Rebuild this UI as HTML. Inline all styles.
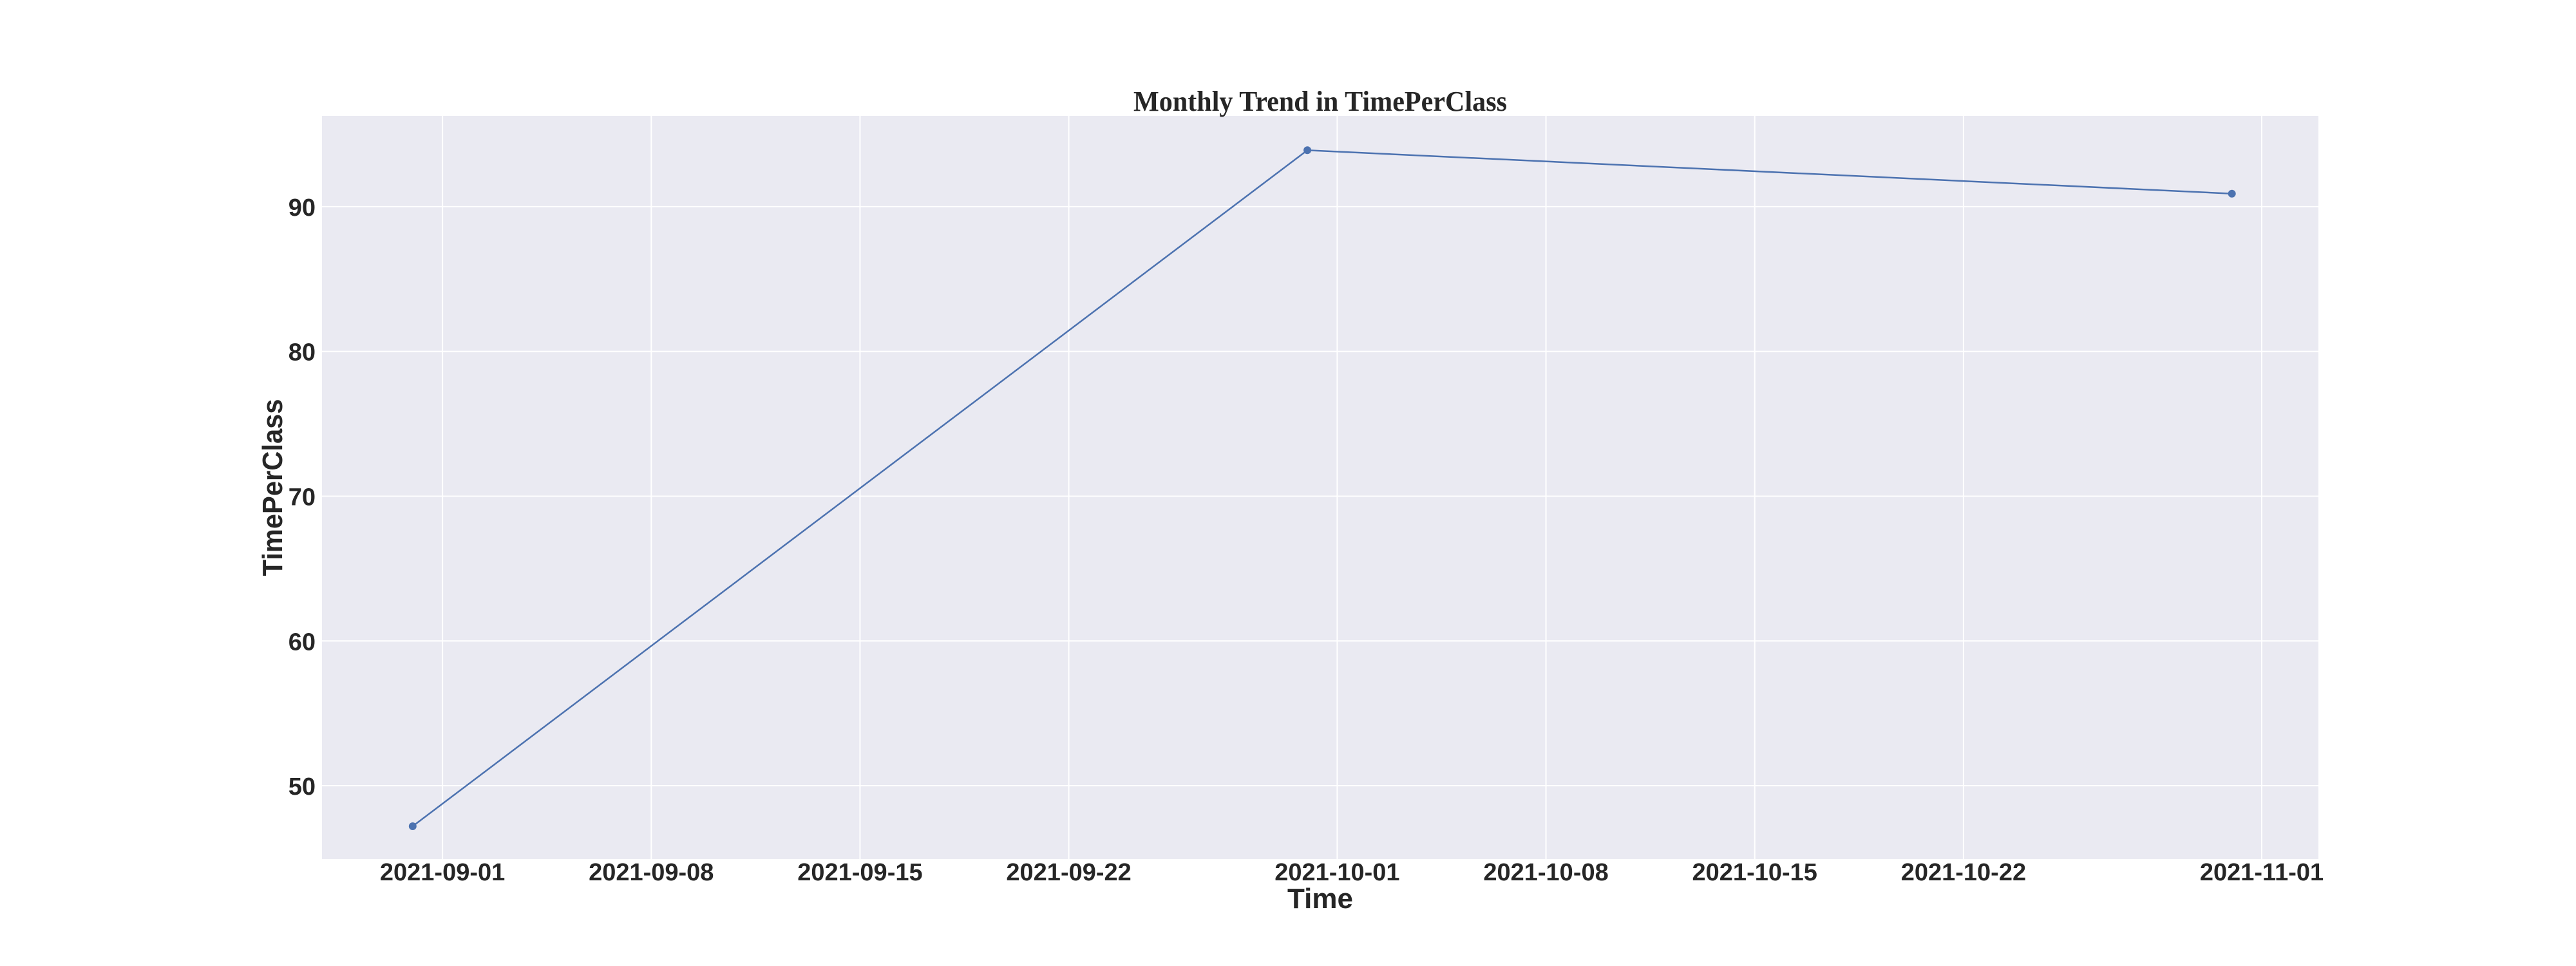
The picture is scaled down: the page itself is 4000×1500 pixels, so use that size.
<!DOCTYPE html>
<html><head><meta charset="utf-8"><style>
html,body{margin:0;padding:0;background:#fff;}
svg{display:block;}
</style></head><body>
<svg id="chart" width="4000" height="1500" xmlns="http://www.w3.org/2000/svg">
<rect x="0" y="0" width="4000" height="1500" fill="#ffffff"/>
<rect x="500" y="180" width="3100" height="1154" fill="#eaeaf2"/>
<g id="grid"></g>
<g id="series"></g>
<g id="xticks"></g>
<g id="yticks"></g>
<text x="2050" y="172" text-anchor="middle" textLength="580" lengthAdjust="spacingAndGlyphs" font-family="Liberation Serif, serif" font-weight="bold" font-size="44" fill="#262626">Monthly Trend in TimePerClass</text>
<text x="2050" y="1410" text-anchor="middle" font-family="Liberation Sans, sans-serif" font-weight="bold" font-size="44" fill="#262626">Time</text>
<text x="0" y="0" transform="translate(438,757) rotate(-90)" text-anchor="middle" textLength="275" lengthAdjust="spacingAndGlyphs" font-family="Liberation Sans, sans-serif" font-weight="bold" font-size="44" fill="#262626">TimePerClass</text>
</svg>
<script>
const dates = ["2021-08-31","2021-09-30","2021-10-31"];
const values = [47.2, 93.9, 90.9];
const xTickLabels = ["2021-09-01","2021-09-08","2021-09-15","2021-09-22","2021-10-01","2021-10-08","2021-10-15","2021-10-22","2021-11-01"];
const yTickValues = [50, 60, 70, 80, 90];

const NS = "http://www.w3.org/2000/svg";
const L = 500, R = 3600, T = 180, B = 1334;
const day0 = Date.UTC(2021, 8, 1);
const xMinDay = -4.04, xMaxDay = 62.9;
const yMin = 44.93, yMax = 96.27;
function dayOf(s){ const p = s.split("-").map(Number); return (Date.UTC(p[0], p[1]-1, p[2]) - day0) / 86400000; }
function xs(s){ return L + (dayOf(s) - xMinDay) / (xMaxDay - xMinDay) * (R - L); }
function ys(v){ return B - (v - yMin) / (yMax - yMin) * (B - T); }
function mk(tag, attrs, parent){ const e = document.createElementNS(NS, tag); for (const k in attrs) e.setAttribute(k, attrs[k]); parent.appendChild(e); return e; }

const grid = document.getElementById("grid");
const xg = document.getElementById("xticks");
const yg = document.getElementById("yticks");
xTickLabels.forEach(lbl => {
  const x = xs(lbl);
  const gl = mk("line", {x1:x, x2:x, y1:T, y2:B, stroke:"#ffffff", "stroke-width":2}, grid);
  
  
  const t = mk("text", {x:x, y:1367, "text-anchor":"middle", "font-family":"Liberation Sans, sans-serif", "font-weight":"bold", "font-size":38, fill:"#262626"}, xg);
  t.textContent = lbl;
  
  
});
yTickValues.forEach(v => {
  const y = ys(v);
  const gl = mk("line", {x1:L, x2:R, y1:y, y2:y, stroke:"#ffffff", "stroke-width":2}, grid);
  
  
  const t = mk("text", {x:490, y:y+14, "text-anchor":"end", "font-family":"Liberation Sans, sans-serif", "font-weight":"bold", "font-size":38, fill:"#262626"}, yg);
  t.textContent = String(v);
  
  
});
const series = document.getElementById("series");
const pts = dates.map((d, i) => xs(d) + "," + ys(values[i])).join(" ");
const pl = mk("polyline", {points:pts, fill:"none", stroke:"#4c72b0", "stroke-width":2.5}, series);


dates.forEach((d, i) => {
  const c = mk("circle", {cx:xs(d), cy:ys(values[i]), r:6, fill:"#4c72b0"}, series);
  
  
});
</script>
</body></html>
